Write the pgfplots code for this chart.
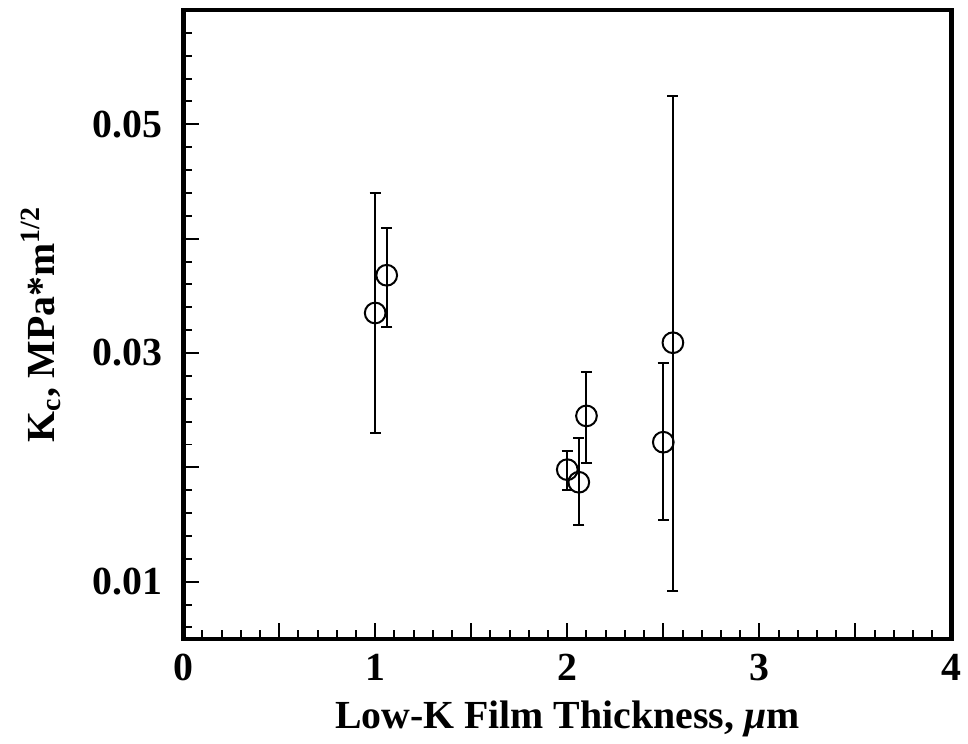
\documentclass[border=0pt]{standalone}
\usepackage{fontspec}
\setmainfont{Liberation Serif}
\usepackage{pgfplots}
\pgfplotsset{compat=1.18}

\pgfplotstableread{
x     y       ep      em
1.00  0.0335  0.0105  0.0105
1.06  0.0368  0.0041  0.0045
2.00  0.0198  0.0016  0.0018
2.06  0.0187  0.0039  0.0037
2.10  0.0245  0.0038  0.0041
2.50  0.0222  0.0069  0.0068
2.55  0.0309  0.0216  0.0217
}\kcdata

\begin{document}
\begin{tikzpicture}
\begin{axis}[
  scale only axis,
  width=386pt, height=316pt,
  xmin=0, xmax=4, ymin=0.005, ymax=0.06,
  scaled y ticks=false,
  axis line style={line width=2.4pt},
  tick style={line width=1pt, black},
  tick align=inside,
  xtick pos=bottom, ytick pos=left,
  major tick length=8pt, minor tick length=4.5pt,
  xtick={0,0.5,1,1.5,2,2.5,3,3.5,4},
  xticklabels={0,,1,,2,,3,,4},
  minor xtick={0.1,0.2,0.3,0.4,0.6,0.7,0.8,0.9,1.1,1.2,1.3,1.4,1.6,1.7,1.8,1.9,2.1,2.2,2.3,2.4,2.6,2.7,2.8,2.9,3.1,3.2,3.3,3.4,3.6,3.7,3.8,3.9},
  ytick={0.01,0.02,0.03,0.04,0.05},
  yticklabels={0.01,,0.03,,0.05},
  minor ytick={0.006,0.008,0.012,0.014,0.016,0.018,0.022,0.024,0.026,0.028,0.032,0.034,0.036,0.038,0.042,0.044,0.046,0.048,0.052,0.054,0.056,0.058},
  tick label style={font=\fontsize{20}{24}\selectfont\bfseries},
  label style={font=\fontsize{20}{24}\selectfont\bfseries},
  xlabel={Low-K Film Thickness, \textit{μ}m},
  ylabel={K\textsubscript{c}, MPa*m\textsuperscript{1/2}},
  xticklabel style={yshift=-4pt},
  yticklabel style={xshift=-7pt},
  ylabel shift=9pt,
  xlabel shift=3pt,
]
\addplot[only marks, mark=o, mark size=5.2pt, line width=1pt, black,
  error bars/.cd, y dir=both, y explicit,
  error bar style={line width=1pt},
  error mark options={rotate=90, mark size=2.8pt, line width=1pt}]
  table[x=x, y=y, y error plus=ep, y error minus=em] {\kcdata};
\end{axis}
\path ([yshift=5pt]current axis.north) ([xshift=6pt]current axis.east) ([xshift=-92pt]current axis.west);
\end{tikzpicture}
\end{document}
